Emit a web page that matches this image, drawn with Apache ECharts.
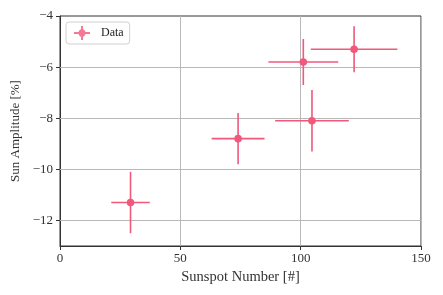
<!DOCTYPE html>
<html>
<head>
<meta charset="utf-8">
<script src="https://cdn.jsdelivr.net/npm/echarts@6/dist/echarts.min.js"></script>
<style>html,body{margin:0;padding:0;background:#fff;}#c{width:443px;height:295px;}</style>
</head>
<body>
<div id="c"></div>
<script>
var sunspot = [29.3, 74.0, 101.1, 104.7, 122.2];
var sunspotErr = [8, 11, 14.5, 15.3, 18];
var amplitude = [-11.3, -8.8, -5.8, -8.1, -5.3];
var amplitudeErr = [1.2, 1.0, 0.9, 1.2, 0.9];
var xTicks = [0, 50, 100, 150];
var yTicks = [-12, -10, -8, -6, -4];

var COLOR = '#f0587c';
var FONT = '"Liberation Serif", "DejaVu Serif", serif';

var data = sunspot.map(function (x, i) { return [x, amplitude[i], sunspotErr[i], amplitudeErr[i]]; });

function fmt(v) { return String(v).replace('-', '\u2212'); }

var ICON = 'path://M7 0L9 0L9 3.2C10.2 3.6 11 4.6 11.4 6L16 6L16 8L11.4 8C11 9.4 10.2 10.4 9 10.8L9 14L7 14L7 10.8C5.8 10.4 5 9.4 4.6 8L0 8L0 6L4.6 6C5 4.6 5.8 3.6 7 3.2Z';

var chart = echarts.init(document.getElementById('c'), null, {renderer: 'canvas'});
chart.setOption({
  animation: false,
  backgroundColor: '#fff',
  grid: {left: 60, right: 22, top: 16, bottom: 49, show: true, borderColor: '#333', borderWidth: 1, backgroundColor: 'transparent'},
  legend: {
    left: 66, top: 22,
    padding: [4, 6, 4, 8],
    borderColor: '#d0d0d0', borderWidth: 1, borderRadius: 3,
    backgroundColor: '#fff',
    itemWidth: 16, itemHeight: 14, itemGap: 10,
    itemStyle: {borderWidth: 0},
    textStyle: {fontFamily: FONT, fontSize: 12, color: '#222', padding: [0, 0, 0, 6]},
    data: [{name: 'Data', icon: ICON}]
  },
  xAxis: {
    type: 'value', min: 0, max: 150, interval: 50,
    name: 'Sunspot Number [#]', nameLocation: 'middle', nameGap: 24,
    nameTextStyle: {fontFamily: FONT, fontSize: 14.5, color: '#333'},
    axisLine: {show: true, onZero: false, lineStyle: {color: '#333', width: 1}},
    axisTick: {show: true, inside: false, length: 4, lineStyle: {color: '#333'}},
    axisLabel: {fontFamily: FONT, fontSize: 13, color: '#333', margin: 6, formatter: fmt},
    splitLine: {show: true, lineStyle: {color: '#b8b8b8', width: 1}}
  },
  yAxis: {
    type: 'value', min: -13, max: -4, interval: 1,
    name: 'Sun Amplitude [%]', nameLocation: 'middle', nameGap: 28, nameRotate: 90,
    nameTextStyle: {fontFamily: FONT, fontSize: 13, color: '#333'},
    axisLine: {show: true, onZero: false, lineStyle: {color: '#333', width: 1}},
    axisTick: {show: true, inside: false, length: 4, lineStyle: {color: '#333'}, customValues: yTicks},
    axisLabel: {fontFamily: FONT, fontSize: 13, color: '#333', margin: 7, customValues: yTicks, formatter: fmt},
    splitLine: {show: false}
  },
  series: [
    {
      name: 'Data', type: 'scatter', data: [], silent: true,
      itemStyle: {color: COLOR, borderWidth: 0}
    },
    {
      type: 'line', data: [], silent: true, z: 0,
      markLine: {
        silent: true, symbol: 'none', animation: false,
        label: {show: false},
        lineStyle: {color: '#b8b8b8', width: 1, type: 'solid'},
        data: yTicks.slice(0, yTicks.length - 1).map(function (v) { return {yAxis: v}; })
      }
    },
    {
      name: 'Data',
      type: 'custom',
      z: 5,
      itemStyle: {color: COLOR},
      data: data,
      renderItem: function (params, api) {
        var x = api.value(0), y = api.value(1), ex = api.value(2), ey = api.value(3);
        var c = api.coord([x, y]);
        var l = api.coord([x - ex, y]), r = api.coord([x + ex, y]);
        var t = api.coord([x, y + ey]), b = api.coord([x, y - ey]);
        var st = {stroke: COLOR, lineWidth: 1.6};
        return {
          type: 'group',
          children: [
            {type: 'line', shape: {x1: l[0], y1: l[1], x2: r[0], y2: r[1]}, style: st},
            {type: 'line', shape: {x1: t[0], y1: t[1], x2: b[0], y2: b[1]}, style: st},
            {type: 'circle', shape: {cx: c[0], cy: c[1], r: 3.8}, style: {fill: COLOR}}
          ]
        };
      }
    }
  ]
});
</script>
</body>
</html>
